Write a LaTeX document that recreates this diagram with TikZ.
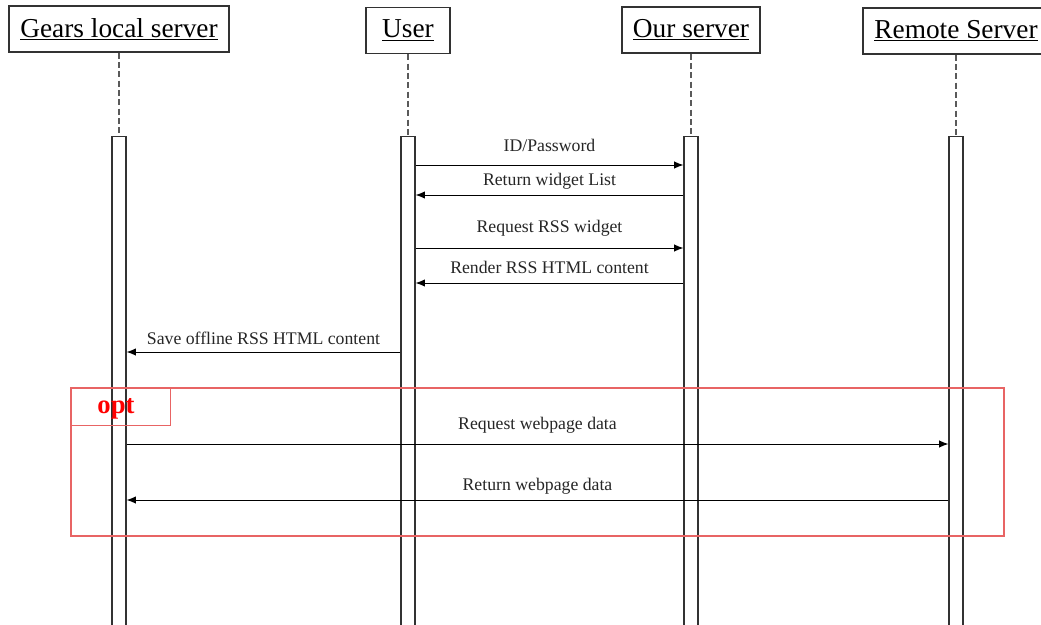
\documentclass[tikz,border=0pt]{standalone}
\usepackage{fontspec}
\setmainfont{Liberation Serif}
\usetikzlibrary{arrows.meta}
\definecolor{framered}{RGB}{232,100,100}
\definecolor{ink}{RGB}{50,50,50}
\definecolor{lifegray}{RGB}{90,90,90}

\begin{document}
\begin{tikzpicture}[x=0.75pt,y=-0.75pt,
  head/.style={draw=ink, line width=1.1pt, inner sep=0pt, minimum height=34.5pt,
               font=\fontsize{20.5}{24}\selectfont},
  bar/.style={draw=ink, line width=0.8pt, inner sep=0pt, minimum width=10.5pt,
              minimum height=372pt, anchor=north},
  life/.style={draw=lifegray, line width=0.8pt, dash pattern=on 4.5pt off 2.5pt},
  msg/.style={draw=black, line width=0.75pt, -{Latex[length=7pt,width=5.5pt]}},
  lbl/.style={inner sep=0pt, font=\fontsize{13.3}{16}\selectfont, text=black!85},
  optframe/.style={draw=framered, line width=0.8pt}
]
\useasboundingbox[fill=white] (0,0) rectangle (1041,624);

% participants
\node[head, minimum width=165pt] (gears) at (119,29) {\underline{Gears local server}};
\node[head, minimum width=63pt] (user) at (408,30.5) {\underline{User}};
\node[head, minimum width=103.5pt] (our) at (691,30) {\underline{Our server}};
\node[head, minimum width=139.5pt] (remote) at (956,31) {\underline{Remote Server}};

% activation bars
\node[bar] (gbar) at (119,136) {};
\node[bar] (ubar) at (408,136) {};
\node[bar] (obar) at (691,136) {};
\node[bar] (rbar) at (956,136) {};

% lifelines
\draw[life] (gears.south) -- (gbar.north);
\draw[life] (user.south) -- (ubar.north);
\draw[life] (our.south) -- (obar.north);
\draw[life] (remote.south) -- (rbar.north);

% messages
\draw[msg] (ubar.east |- 0,165) -- (obar.west |- 0,165)
  node[lbl, midway, yshift=15pt] {ID/Password};
\draw[msg] (obar.west |- 0,195) -- (ubar.east |- 0,195)
  node[lbl, midway, yshift=10.5pt] {Return widget List};
\draw[msg] (ubar.east |- 0,248) -- (obar.west |- 0,248)
  node[lbl, midway, yshift=14.5pt] {Request RSS widget};
\draw[msg] (obar.west |- 0,283) -- (ubar.east |- 0,283)
  node[lbl, midway, yshift=12pt] {Render RSS HTML content};
\draw[msg] (ubar.west |- 0,352) -- (gbar.east |- 0,352)
  node[lbl, midway, yshift=10.5pt] {Save offline RSS HTML content};

% optional fragment
\draw[optframe] (71,388) rectangle (1004,536);
\node[optframe, inner sep=0pt, minimum width=74.25pt, minimum height=27.75pt,
      anchor=north west] (opttab) at (71,388) {};
\node[inner sep=0pt, anchor=base, text=red, font=\fontsize{20}{24}\selectfont\bfseries]
  (optlabel) at (116,413) {opt};

\draw[msg] (gbar.east |- 0,444) -- (rbar.west |- 0,444)
  node[lbl, midway, yshift=14pt] {Request webpage data};
\draw[msg] (rbar.west |- 0,500) -- (gbar.east |- 0,500)
  node[lbl, midway, yshift=10pt] {Return webpage data};
\end{tikzpicture}
\end{document}
